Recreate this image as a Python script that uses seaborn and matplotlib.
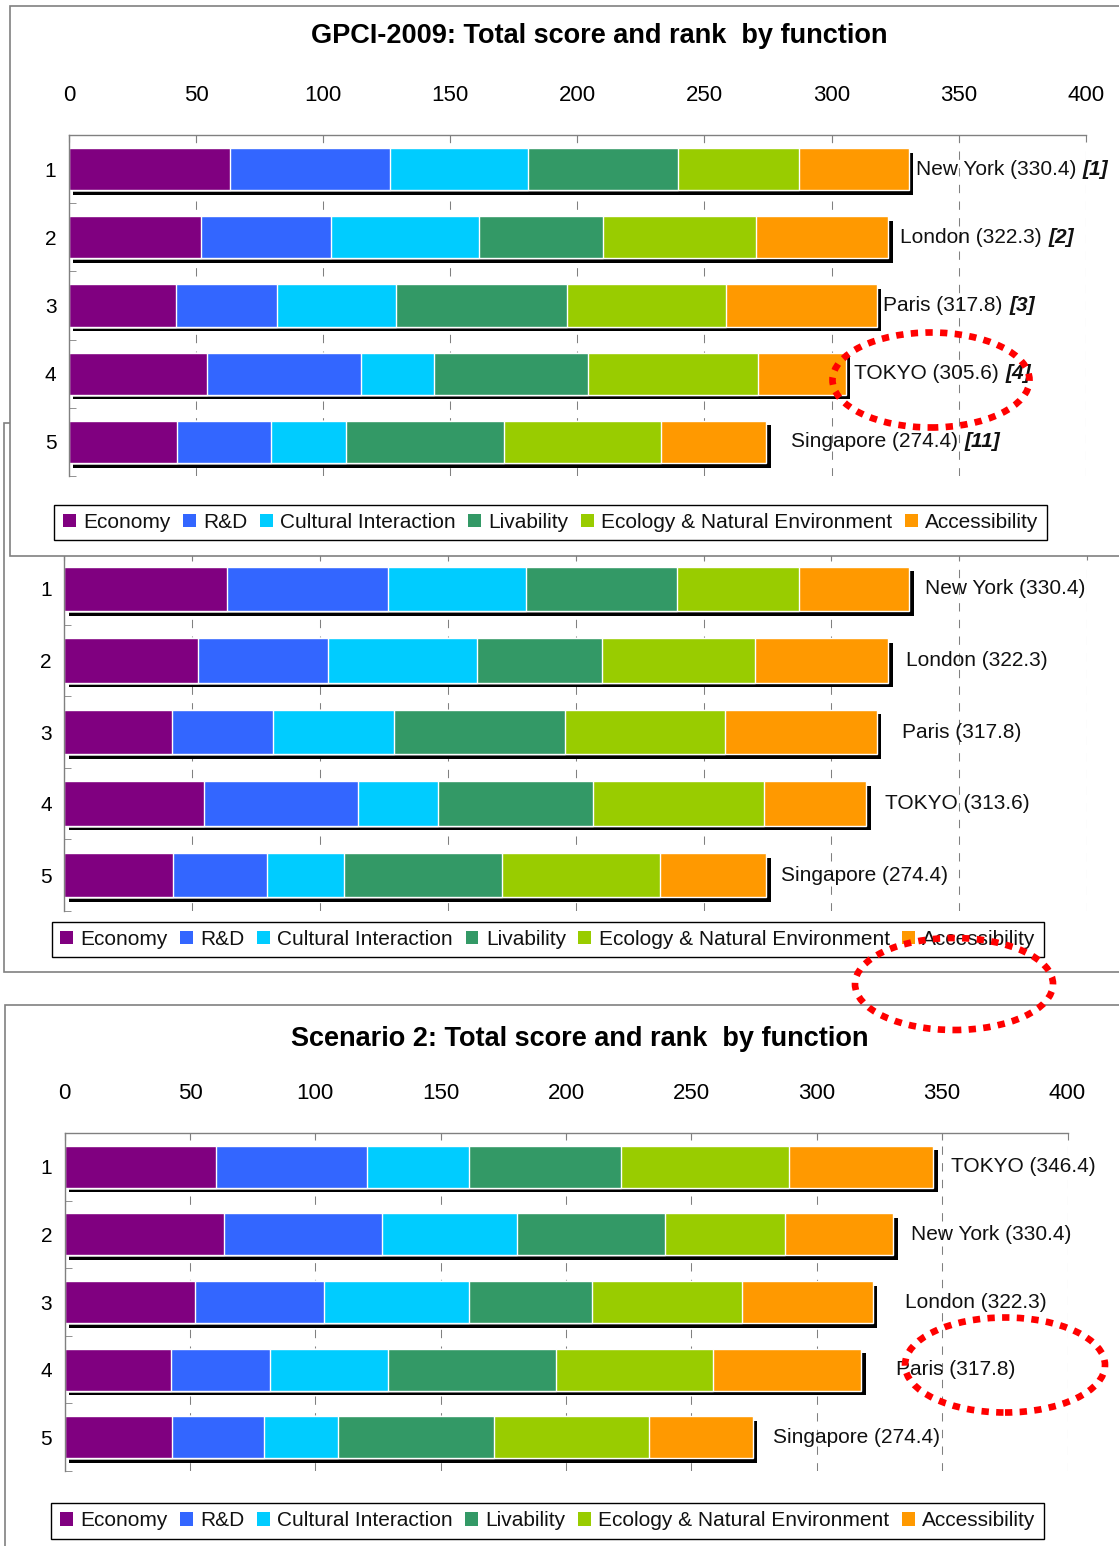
import numpy as np
import pandas as pd
import matplotlib
matplotlib.use("Agg")
import matplotlib.pyplot as plt
import matplotlib.patheffects as pe
from matplotlib.patches import Rectangle, Ellipse, Patch
from matplotlib.offsetbox import TextArea, HPacker, AnnotationBbox
from matplotlib import font_manager as fm
import seaborn as sns

# ---------------------------------------------------------------- data
functions = ["Economy", "R&D", "Cultural Interaction", "Livability",
             "Ecology & Natural Environment", "Accessibility"]
ranks = ["1", "2", "3", "4", "5"]

# GPCI-2009 scores by function
cities_2009 = ["New York", "London", "Paris", "TOKYO", "Singapore"]
economy_2009 = [63.5, 52.1, 42.3, 54.5, 42.7]
rnd_2009 = [63.0, 51.2, 39.5, 60.5, 36.7]
cultural_2009 = [54.1, 58.0, 47.0, 28.7, 29.8]
livability_2009 = [59.0, 49.0, 67.2, 60.5, 61.9]
ecology_2009 = [47.7, 60.0, 62.5, 67.0, 62.0]
access_2009 = [43.1, 52.0, 59.3, 34.4, 41.3]
totals_2009 = [330.4, 322.3, 317.8, 305.6, 274.4]
world_rank_2009 = ["[1]", "[2]", "[3]", "[4]", "[11]"]

# Scenario 1 (Tokyo improved)
cities_s1 = ["New York", "London", "Paris", "TOKYO", "Singapore"]
economy_s1 = [63.5, 52.1, 42.3, 54.5, 42.7]
rnd_s1 = [63.0, 51.2, 39.5, 60.5, 36.7]
cultural_s1 = [54.1, 58.0, 47.0, 31.1, 29.8]
livability_s1 = [59.0, 49.0, 67.2, 60.5, 61.9]
ecology_s1 = [47.7, 60.0, 62.5, 67.0, 62.0]
access_s1 = [43.1, 52.0, 59.3, 40.0, 41.3]
totals_s1 = [330.4, 322.3, 317.8, 313.6, 274.4]

# Scenario 2
cities_s2 = ["TOKYO", "New York", "London", "Paris", "Singapore"]
economy_s2 = [60.3, 63.5, 52.1, 42.3, 42.7]
rnd_s2 = [60.5, 63.0, 51.2, 39.5, 36.7]
cultural_s2 = [40.6, 54.1, 58.0, 47.0, 29.8]
livability_s2 = [60.5, 59.0, 49.0, 67.2, 61.9]
ecology_s2 = [67.0, 47.7, 60.0, 62.5, 62.0]
access_s2 = [57.5, 43.1, 52.0, 59.3, 41.3]
totals_s2 = [346.4, 330.4, 322.3, 317.8, 274.4]

# ---------------------------------------------------------------- style
colors = ["#800080", "#3366FF", "#00CCFF", "#339966", "#99CC00", "#FF9900"]
W, H = 1119, 1546
DPI = 100

names = {f.name for f in fm.fontManager.ttflist}
SANS = "Liberation Sans" if "Liberation Sans" in names else "DejaVu Sans"
if "Liberation Sans Narrow" in names:
    NARROW, LABEL_SIZE, RANK_SIZE = "Liberation Sans Narrow", 18, 17
else:
    NARROW, LABEL_SIZE, RANK_SIZE = SANS, 15, 15
plt.rcParams["font.family"] = [SANS, "DejaVu Sans"]

GRAY = "#808080"

fig = plt.figure(figsize=(W / DPI, H / DPI), dpi=DPI)
fig.patch.set_facecolor("white")


def frac_rect(x0, y0, x1, y1):
    return [x0 / W, 1 - y1 / H, (x1 - x0) / W, (y1 - y0) / H]


def draw_panel(ax, cities, parts, totals, tags, gaps_px, legend_center):
    df = pd.DataFrame(dict(zip(functions, parts)), index=ranks)
    cum = df.cumsum(axis=1)
    shadow = [pe.SimplePatchShadow(offset=(3.3, -3.3), shadow_rgbFace="black", alpha=1.0),
              pe.Normal()]
    # cumulative bars drawn longest first, so each shorter one shows as a segment
    for k in range(len(functions) - 1, -1, -1):
        n_before = len(ax.patches)
        sns.barplot(x=cum[functions[k]].values, y=ranks, orient="h",
                    color=colors[k], saturation=1, width=0.62,
                    edgecolor="white", linewidth=1.0, ax=ax)
        if k == len(functions) - 1:
            for p in ax.patches[n_before:]:
                p.set_path_effects(shadow)

    ax.set_xlim(0, 400)
    ax.set_ylim(4.5, -0.5)
    ax.set_xticks(np.arange(0, 401, 50))
    ax.xaxis.tick_top()
    ax.tick_params(axis="x", direction="in", length=5, color=GRAY, pad=21,
                   labelsize=16, labelcolor="black")
    ax.xaxis.grid(True, linestyle=(0, (8, 8)), color=GRAY, linewidth=0.75)
    ax.set_axisbelow(True)
    ax.set_yticks(np.arange(-0.5, 5.0, 1.0), minor=True)
    ax.tick_params(axis="y", which="major", length=0, pad=9)
    ax.tick_params(axis="y", which="minor", direction="in", length=5, color=GRAY)
    for lbl in ax.get_yticklabels():
        lbl.set_fontfamily(NARROW)
        lbl.set_fontsize(RANK_SIZE)
    for side in ("right", "bottom"):
        ax.spines[side].set_visible(False)
    for side in ("left", "top"):
        ax.spines[side].set_color(GRAY)
        ax.spines[side].set_linewidth(1.0)
    ax.set_xlabel("")
    ax.set_ylabel("")
    ax.patch.set_visible(False)

    for i, (city, total) in enumerate(zip(cities, totals)):
        items = [TextArea(f"{city} ({total:.1f})",
                          textprops=dict(family=NARROW, size=LABEL_SIZE, color="#111111"))]
        if tags is not None:
            items.append(TextArea(tags[i], textprops=dict(family=NARROW, size=LABEL_SIZE,
                                                          weight="bold", style="italic",
                                                          color="#111111")))
        box = HPacker(children=items, align="baseline", pad=0, sep=5)
        ab = AnnotationBbox(box, (total, i), xybox=(gaps_px[i] * 0.72, 0),
                            xycoords="data", boxcoords="offset points",
                            box_alignment=(0, 0.5), frameon=False, pad=0)
        ax.add_artist(ab)

    handles = [Patch(facecolor=c, edgecolor="none") for c in colors]
    leg = ax.legend(handles, functions, ncol=6, loc="center",
                    bbox_to_anchor=(legend_center[0] / W, 1 - legend_center[1] / H),
                    bbox_transform=fig.transFigure, frameon=True, fancybox=False,
                    framealpha=1, edgecolor="black",
                    prop=dict(family=NARROW, size=LABEL_SIZE),
                    handlelength=0.62, handleheight=0.62, handletextpad=0.35,
                    columnspacing=0.6, borderpad=0.4, borderaxespad=0)
    leg.get_frame().set_linewidth(1.0)
    for t in leg.get_texts():
        t.set_color("#111111")
    return ax


# ---------------------------------------------------------------- panel frames
fig.add_artist(Rectangle((4 / W, 1 - 972 / H), (1140 - 4) / W, (972 - 423) / H,
                         transform=fig.transFigure, facecolor="white",
                         edgecolor=GRAY, linewidth=1.2, zorder=0.5))
fig.add_artist(Rectangle((10 / W, 1 - 556 / H), (1140 - 10) / W, (556 - 6) / H,
                         transform=fig.transFigure, facecolor="white",
                         edgecolor=GRAY, linewidth=1.2, zorder=2))
fig.add_artist(Rectangle((5 / W, 1 - 1570 / H), (1140 - 5) / W, (1570 - 1005) / H,
                         transform=fig.transFigure, facecolor="white",
                         edgecolor=GRAY, linewidth=1.2, zorder=0.5))

# ---------------------------------------------------------------- panels
ax2 = fig.add_axes(frac_rect(64.3, 553, 1087.1, 911))
ax2.set_zorder(1)
draw_panel(ax2, cities_s1,
           [economy_s1, rnd_s1, cultural_s1, livability_s1, ecology_s1, access_s1],
           totals_s1, None, [15.7, 17.8, 24.6, 19, 15.3], (548, 939.5))
ax2.tick_params(axis="x", labeltop=False)

ax1 = fig.add_axes(frac_rect(68.9, 135, 1085.7, 476))
ax1.set_zorder(3)
draw_panel(ax1, cities_2009,
           [economy_2009, rnd_2009, cultural_2009, livability_2009, ecology_2009, access_2009],
           totals_2009, world_rank_2009, [6.8, 12, 6, 8, 24.3], (550.5, 522.5))
fig.text(599 / W, 1 - 36 / H, "GPCI-2009: Total score and rank  by function",
         ha="center", va="center", fontsize=19.5, fontweight="bold",
         family=SANS, zorder=3.5)

ax3 = fig.add_axes(frac_rect(64.6, 1133, 1067.5, 1471))
ax3.set_zorder(1)
draw_panel(ax3, cities_s2,
           [economy_s2, rnd_s2, cultural_s2, livability_s2, ecology_s2, access_s2],
           totals_s2, None, [17.5, 18, 32.8, 35, 20.4], (547.5, 1521))
fig.text(579.5 / W, 1 - 1039 / H, "Scenario 2: Total score and rank  by function",
         ha="center", va="center", fontsize=19.5, fontweight="bold",
         family=SANS, zorder=3.5)

# ---------------------------------------------------------------- red highlight rings
for cx, cy, ew, eh in [(931, 380, 197, 95), (954, 984, 198, 92), (1005, 1365, 200, 95)]:
    fig.add_artist(Ellipse((cx / W, 1 - cy / H), ew / W, eh / H,
                           transform=fig.transFigure, fill=False,
                           edgecolor="#FF0000", linewidth=4.8,
                           linestyle=(0, (1.1, 1.1)), zorder=10))

fig.savefig("out.png", dpi=DPI, facecolor="white")
